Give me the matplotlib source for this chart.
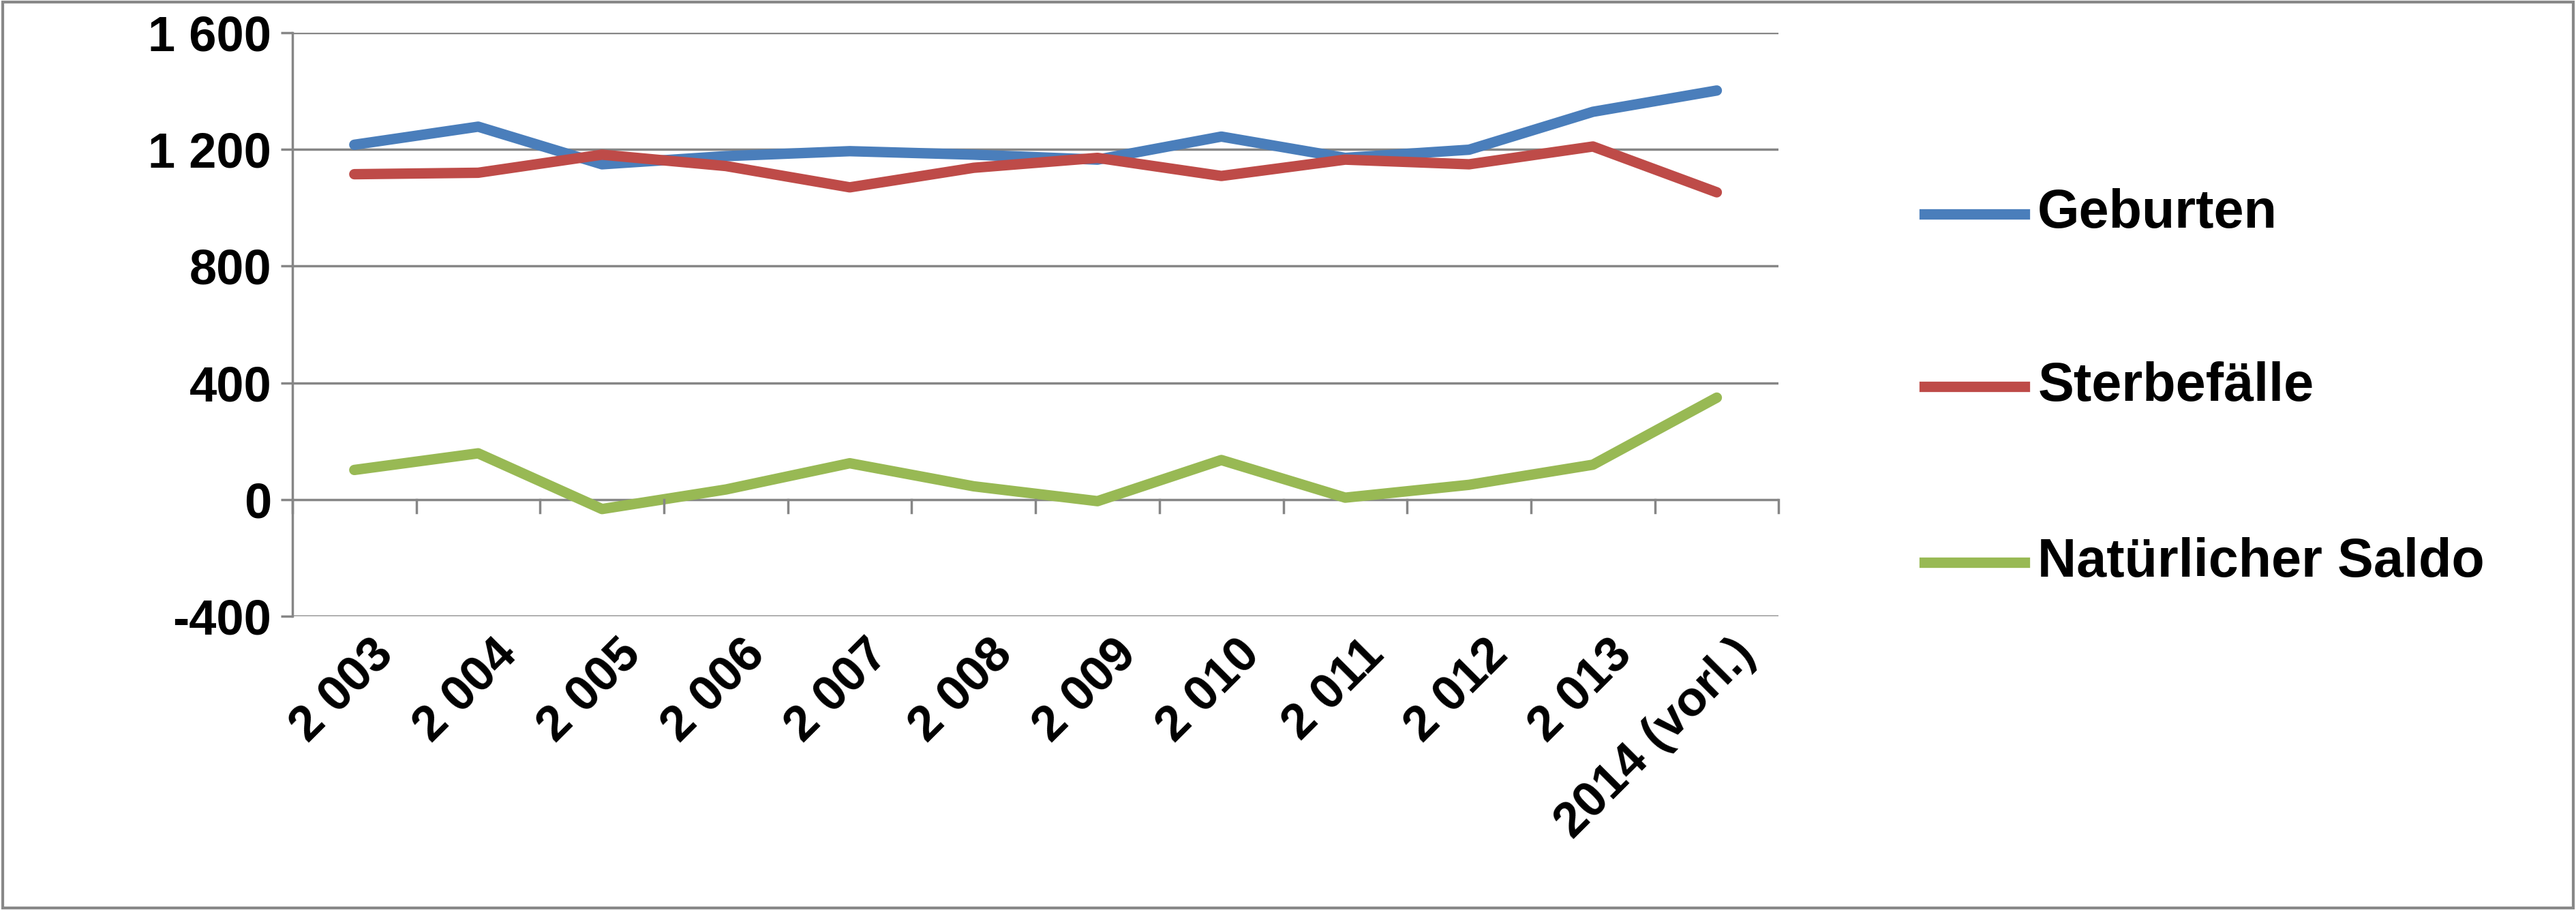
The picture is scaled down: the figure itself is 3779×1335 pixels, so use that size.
import matplotlib
matplotlib.use("Agg")
import matplotlib.pyplot as plt
from matplotlib.lines import Line2D

plt.rcParams['font.family'] = ['Liberation Sans', 'DejaVu Sans']

years = ["2 003", "2 004", "2 005", "2 006", "2 007", "2 008", "2 009", "2 010", "2 011", "2 012", "2 013", "2014 (vorl.)"]
geburten = [1216, 1278, 1149, 1177, 1194, 1182, 1165, 1244, 1171, 1199, 1329, 1402]
sterbefaelle = [1115, 1120, 1182, 1143, 1070, 1137, 1171, 1109, 1165, 1149, 1210, 1053]
saldo = [101, 158, -33, 34, 124, 45, -6, 135, 6, 50, 119, 349]
yticks = [-400, 0, 400, 800, 1200, 1600]
ylabels = ["-400", "0", "400", "800", "1 200", "1 600"]

colors = ["#4A7EBB", "#BE4B48", "#98B954"]
names = ["Geburten", "Sterbefälle", "Natürlicher Saldo"]

fig = plt.figure(figsize=(37.79, 13.35), dpi=100)
fig.patches.append(matplotlib.patches.Rectangle((0.001, 0.002), 0.998, 0.996, transform=fig.transFigure,
                   fill=False, edgecolor="#888888", linewidth=3))
ax = fig.add_axes([0.1135, 0.323, 0.577, 0.641])
x = list(range(len(years)))
for s, c in zip([geburten, sterbefaelle, saldo], colors):
    ax.plot(x, s, color=c, linewidth=11, solid_capstyle='round')
ax.set_xlim(-0.5, len(years) - 0.5)
ax.set_ylim(-400, 1600)
ax.set_yticks(yticks)
ax.set_yticklabels(ylabels, fontsize=52, fontweight='bold')
for y in yticks:
    ax.axhline(y, color="#868686", linewidth=2.5, zorder=0)
for sp in ['top', 'right', 'bottom']:
    ax.spines[sp].set_visible(False)
ax.spines['left'].set_color("#868686")
ax.spines['left'].set_linewidth(2.5)
ax.tick_params(axis='y', length=12, width=2.5, color="#868686", pad=10)
ax.set_xticks(x)
ax.set_xticklabels([])
ax.tick_params(axis='x', length=0)
for b in [i - 0.5 for i in range(len(years) + 1)]:
    ax.plot([b, b], [0, -45], color="#868686", linewidth=2.5, clip_on=False)
for i, lab in enumerate(years):
    ax.text(i + 0.12, -450, lab, rotation=45, ha='right', va='top', fontsize=52,
            fontweight='bold', rotation_mode='anchor')

ys = [0.765, 0.575, 0.382]
for n, c, yy in zip(names, colors, ys):
    fig.add_artist(Line2D([0.747, 0.786], [yy, yy], color=c, linewidth=11, transform=fig.transFigure))
    fig.text(0.791, yy, n, fontsize=57, fontweight='bold', va='center')

fig.savefig("out.png", dpi=100)
